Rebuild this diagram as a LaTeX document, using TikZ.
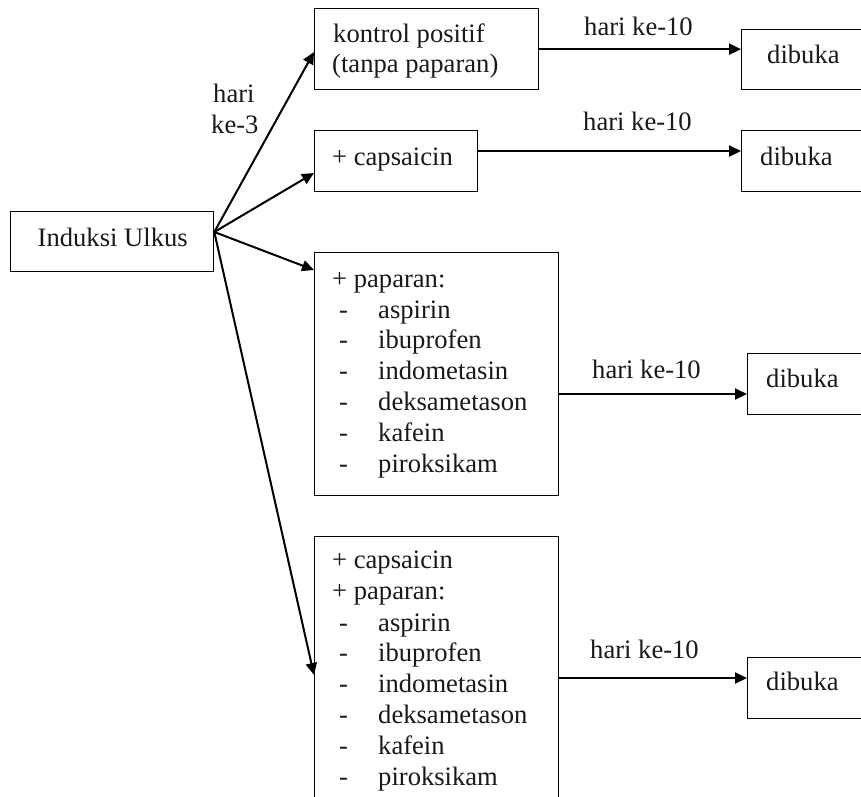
\documentclass[tikz,border=0pt]{standalone}
\usepackage{fontspec}
\setmainfont{Liberation Serif}
\usetikzlibrary{arrows.meta}
\begin{document}
\begin{tikzpicture}[x=1pt,y=-1pt,
  boxst/.style={draw=black, line width=1.3pt, inner sep=0pt, anchor=north west},
  txt/.style={anchor=base west, inner sep=0pt, text=black!90, font=\fontsize{26.6}{30}\selectfont},
  arr/.style={line width=2pt, -{Triangle[length=12pt,width=11pt]}}]
\useasboundingbox (0,0) rectangle (861,796);
\clip (0,0) rectangle (861,796);
\fill[white] (0,0) rectangle (861,796);

% boxes
\node[boxst, minimum width=203pt, minimum height=60pt] (ind) at (10,211) {};
\node[boxst, minimum width=224pt, minimum height=81pt] (kon) at (314,8) {};
\node[boxst, minimum width=163pt, minimum height=61pt] (cap) at (314,130) {};
\node[boxst, minimum width=244pt, minimum height=243pt] (pap) at (314,252) {};
\node[boxst, minimum width=244pt, minimum height=280pt] (pap2) at (314,536) {};
\node[boxst, minimum width=150pt, minimum height=60pt] (d1) at (741,29) {};
\node[boxst, minimum width=150pt, minimum height=61pt] (d2) at (741,130) {};
\node[boxst, minimum width=150pt, minimum height=61pt] (d3) at (747,353) {};
\node[boxst, minimum width=150pt, minimum height=61pt] (d4) at (747,657) {};

% texts
\node[txt] (tind) at (37.5,246) {Induksi Ulkus};
\node[txt] (tkon1) at (333,42) {kontrol positif};
\node[txt] (tkon2) at (332,72) {(tanpa paparan)};
\node[txt] (tcap) at (332,165) {+ capsaicin};
\node[txt] (tpap) at (332,287) {+ paparan:};
\foreach \t [count=\i from 0] in {aspirin,ibuprofen,indometasin,deksametason,kafein,piroksikam}{
  \node[txt] (da\i) at (339,{318+30.8*\i}) {-};
  \node[txt] (ia\i) at (378,{318+30.8*\i}) {\t};
}
\node[txt] (tcap2) at (332,568) {+ capsaicin};
\node[txt] (tpap2) at (332,599) {+ paparan:};
\foreach \t [count=\i from 0] in {aspirin,ibuprofen,indometasin,deksametason,kafein,piroksikam}{
  \node[txt] (db\i) at (339,{631+30.8*\i}) {-};
  \node[txt] (ib\i) at (378,{631+30.8*\i}) {\t};
}
\node[txt] (td1) at (767,63) {dibuka};
\node[txt] (td2) at (760,165) {dibuka};
\node[txt] (td3) at (766,387) {dibuka};
\node[txt] (td4) at (766,690) {dibuka};

\node[txt] (h1) at (584,35) {hari ke-10};
\node[txt] (h2) at (583,130) {hari ke-10};
\node[txt] (h3) at (592,378) {hari ke-10};
\node[txt] (h4) at (590,658) {hari ke-10};
\node[txt] (k3a) at (213,102) {hari};
\node[txt] (k3b) at (211,133) {ke-3};

% connectors
\coordinate (o) at (ind.east |- 0,232);
\draw[arr] (o) -- (kon.west |- 0,52);
\draw[arr] (o) -- (cap.west |- 0,173);
\draw[arr] (o) -- (pap.west |- 0,270);
\draw[arr] (o) -- (pap2.west |- 0,675);
\draw[arr] (kon.east) -- (kon.east -| d1.west);
\draw[arr] (cap.east |- 0,151) -- (d2.west |- 0,151);
\draw[arr] (pap.east |- 0,394) -- (d3.west |- 0,394);
\draw[arr] (pap2.east |- 0,678) -- (d4.west |- 0,678);
\end{tikzpicture}
\end{document}
